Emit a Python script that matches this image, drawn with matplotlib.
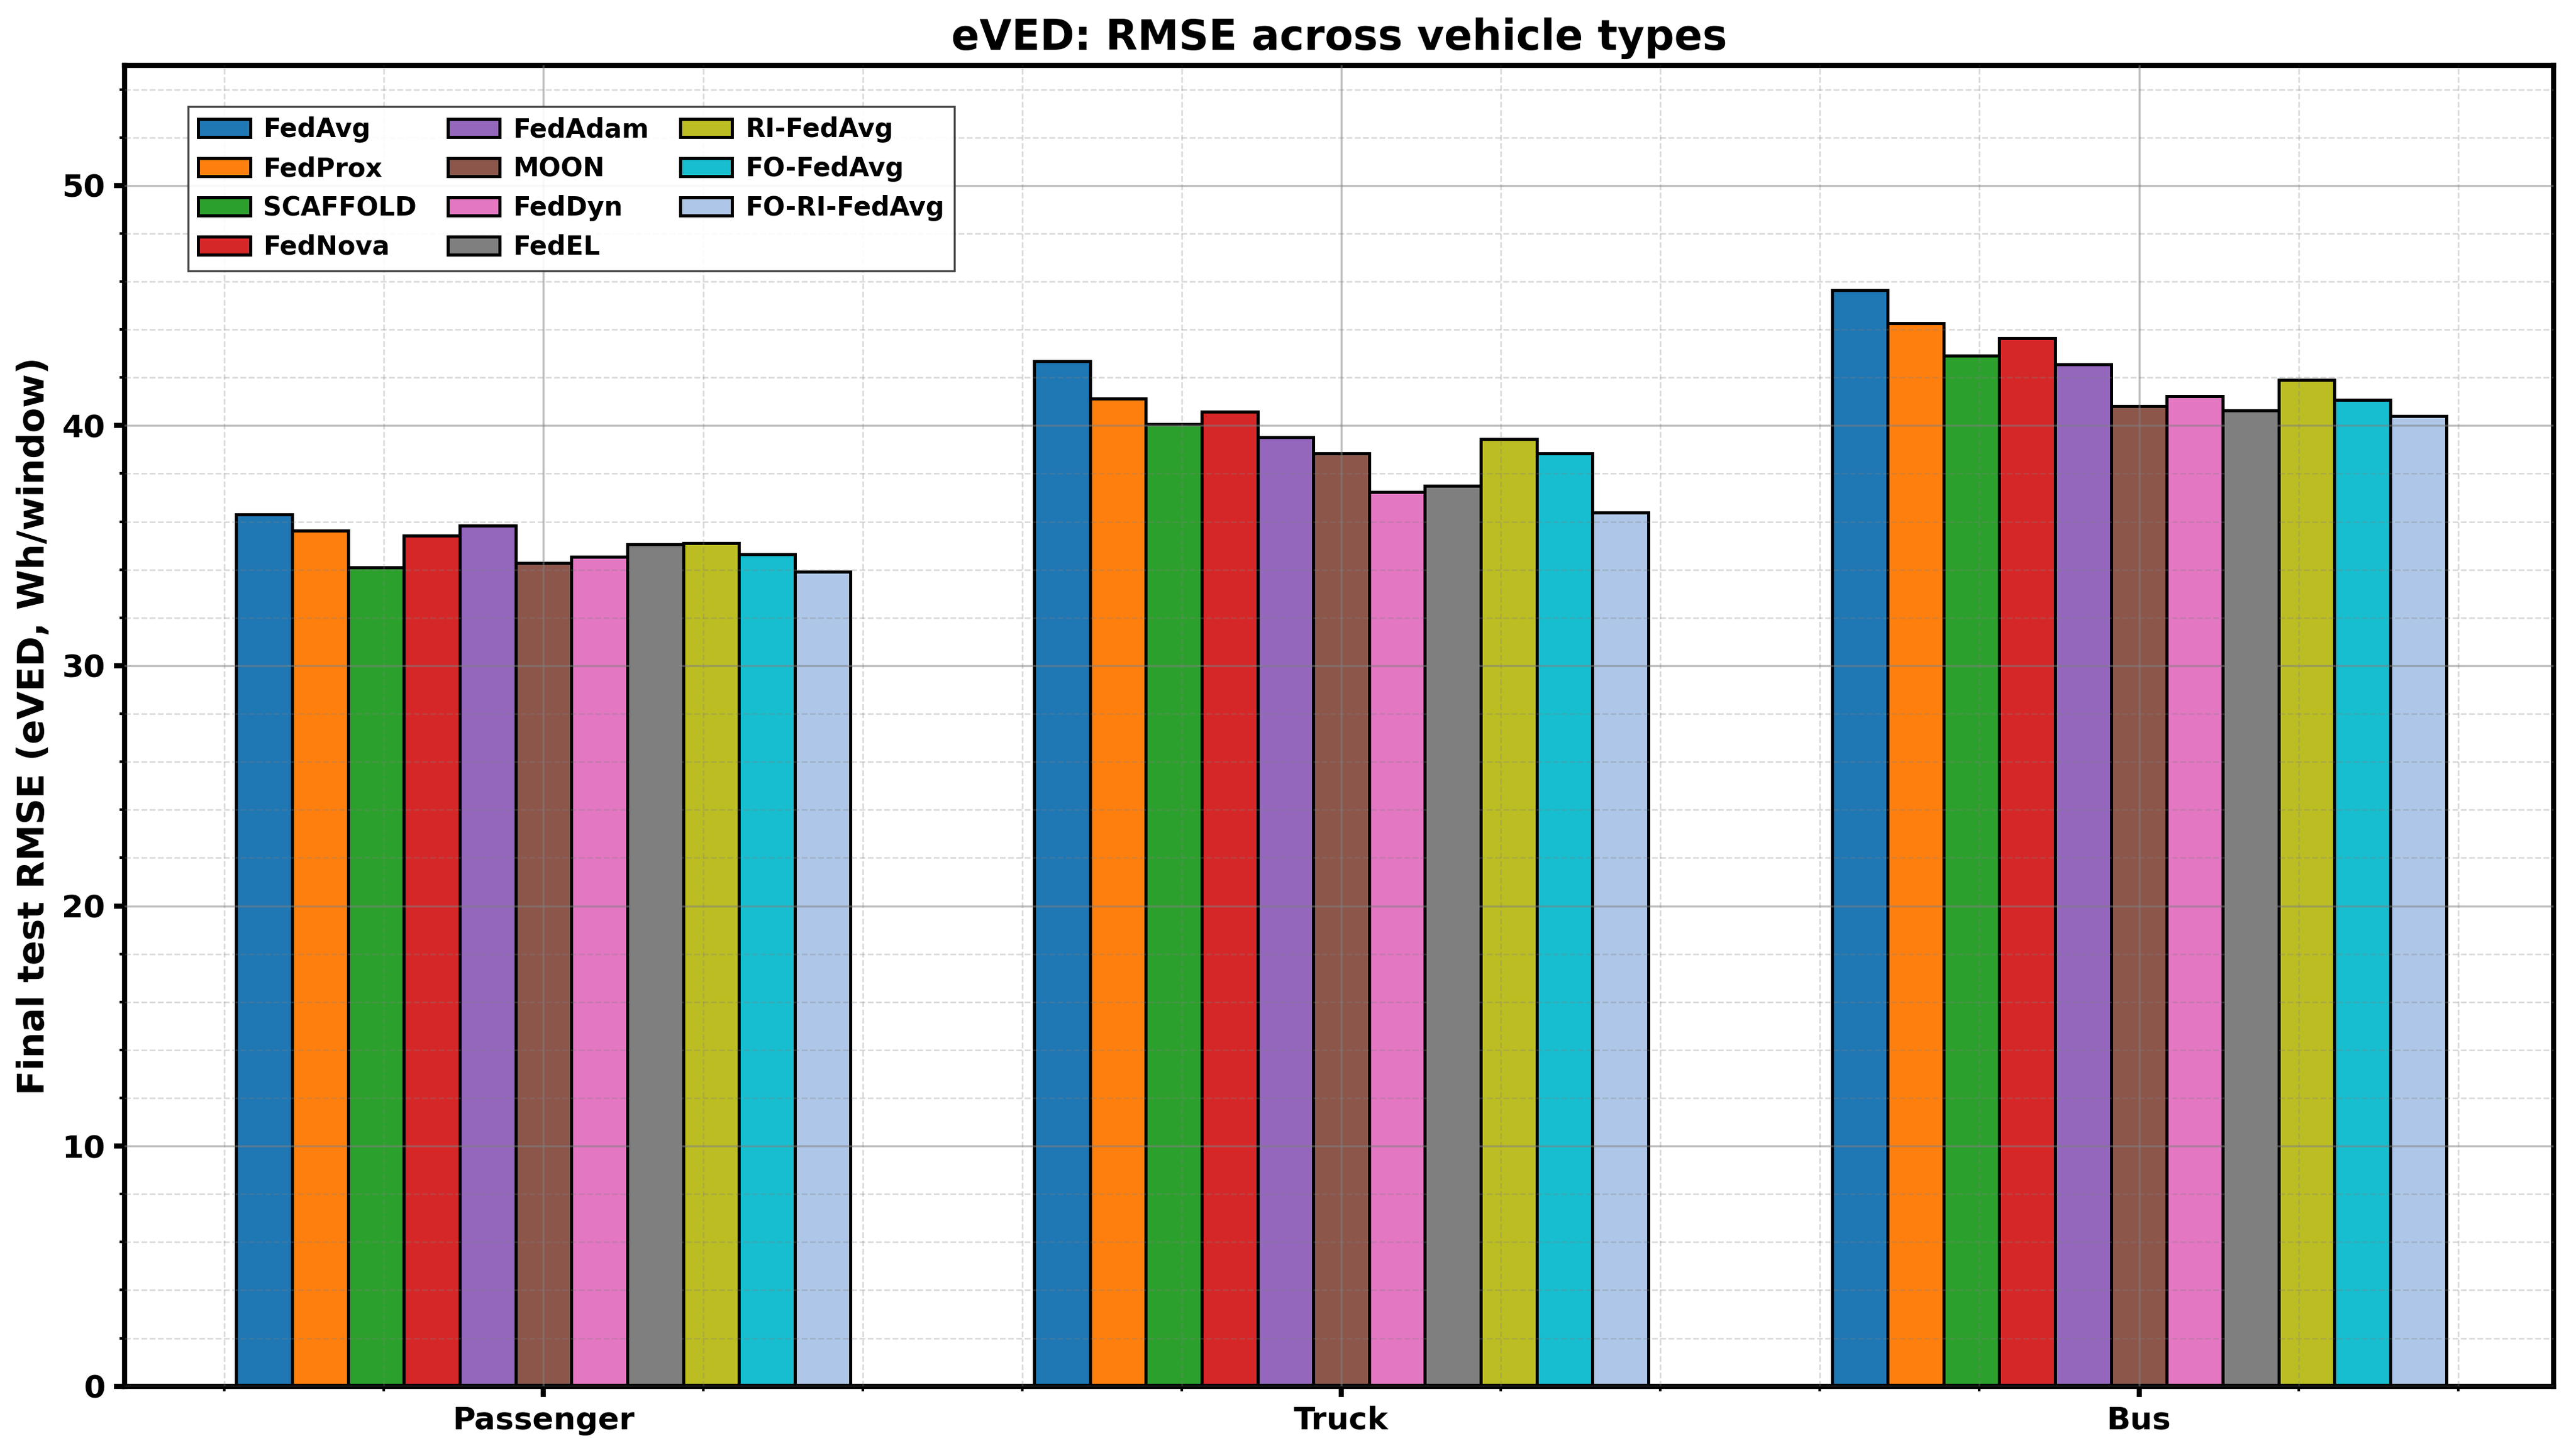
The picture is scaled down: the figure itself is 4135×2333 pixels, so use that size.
import matplotlib
matplotlib.use("Agg")
import matplotlib.pyplot as plt
import numpy as np
from matplotlib.ticker import AutoMinorLocator

categories = ["Passenger", "Truck", "Bus"]
methods = ["FedAvg", "FedProx", "SCAFFOLD", "FedNova", "FedAdam", "MOON",
           "FedDyn", "FedEL", "RI-FedAvg", "FO-FedAvg", "FO-RI-FedAvg"]

fedavg    = [36.29, 42.69, 45.65]
fedprox   = [35.62, 41.13, 44.25]
scaffold  = [34.09, 40.07, 42.92]
fednova   = [35.43, 40.59, 43.65]
fedadam   = [35.84, 39.52, 42.56]
moon      = [34.27, 38.85, 40.82]
feddyn    = [34.54, 37.24, 41.24]
fedel     = [35.06, 37.50, 40.64]
ri_fedavg = [35.10, 39.45, 41.89]
fo_fedavg = [34.65, 38.85, 41.08]
fo_ri     = [33.92, 36.38, 40.41]

series = [fedavg, fedprox, scaffold, fednova, fedadam, moon, feddyn, fedel,
          ri_fedavg, fo_fedavg, fo_ri]
colors = ["#1f77b4", "#ff7f0e", "#2ca02c", "#d62728", "#9467bd", "#8c564b",
          "#e377c2", "#7f7f7f", "#bcbd22", "#17becf", "#aec7e8"]

plt.rcParams["font.family"] = ["DejaVu Sans"]
plt.rcParams["font.weight"] = "bold"

fig = plt.figure(figsize=(4135 / 300, 2333 / 300), dpi=300)
ax = fig.add_axes([0.0484, 0.046, 0.943, 0.909])

x = np.arange(len(categories))
n = len(methods)
width = 0.07
for i, (name, vals, c) in enumerate(zip(methods, series, colors)):
    offs = (i - (n - 1) / 2) * width
    ax.bar(x + offs, vals, width, color=c, edgecolor="black", linewidth=1.2,
           label=name, zorder=2)

ax.set_xlim(-0.525, 2.52)
ax.set_ylim(0, 55)
ax.set_xticks(x)
ax.set_xticklabels(categories, fontsize=12, fontweight="bold")
ax.set_yticks([0, 10, 20, 30, 40, 50])
ax.set_yticklabels(["0", "10", "20", "30", "40", "50"], fontsize=12, fontweight="bold")
ax.xaxis.set_minor_locator(AutoMinorLocator(5))
ax.yaxis.set_minor_locator(AutoMinorLocator(5))
ax.tick_params(which="major", direction="out", length=4, width=2)
ax.tick_params(which="minor", direction="out", length=2, width=1)

ax.set_axisbelow(False)
ax.grid(which="major", color="gray", alpha=0.5, linewidth=0.8, linestyle="-", zorder=3)
ax.grid(which="minor", color="gray", alpha=0.3, linewidth=0.6, linestyle="--", zorder=3)

for s in ax.spines.values():
    s.set_linewidth(2)

ax.set_ylabel("Final test RMSE (eVED, Wh/window)", fontsize=14, fontweight="bold")
ax.set_title("eVED: RMSE across vehicle types", fontsize=16, fontweight="bold")

leg = ax.legend(ncol=3, loc="upper left", bbox_to_anchor=(0.026, 0.969),
                borderaxespad=0, fancybox=False, framealpha=0.9,
                columnspacing=1.2, handletextpad=0.5,
                edgecolor="#333333", prop={"weight": "bold", "size": 10})
leg.get_frame().set_linewidth(0.8)

fig.savefig("out.png", dpi=300)
